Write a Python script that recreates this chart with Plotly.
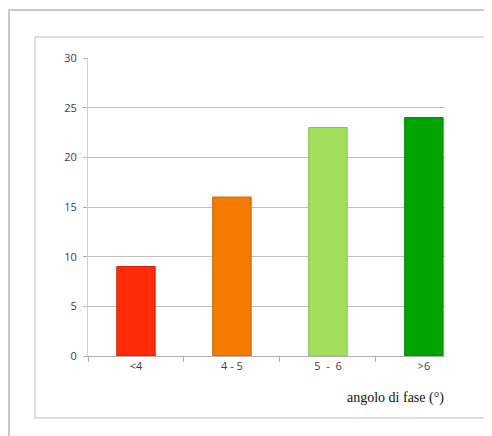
import plotly.graph_objects as go

categories = ["<4", "4\u00a0-\u00a05", "5\u00a0\u00a0-\u00a0\u00a06", ">6"]
values = [9, 16, 23, 24]
colors = ["#FF2A06", "#F47A00", "#A2E05C", "#00A400"]
borders = ["#D81E00", "#C86200", "#86C048", "#008800"]
y_ticks = [0, 5, 10, 15, 20, 25, 30]
x_title = "angolo di fase (°)"

OFF = 8  # page body margin offset
W, H = 492, 436
fx = lambda px: (px - OFF) / W
fy = lambda py: 1 - (py - OFF) / H


def open_frame(left, top, bottom, right=1200):
    x0, x1 = fx(left), fx(right)
    yt, yb = fy(top), fy(bottom)
    return f"M {x1} {yt} L {x0} {yt} L {x0} {yb} L {x1} {yb}"


fig = go.Figure()
fig.add_trace(go.Bar(
    x=categories, y=values, width=0.4,
    marker=dict(color=colors, line=dict(color=borders, width=1)),
    hoverinfo="x+y",
))

fig.update_layout(
    width=W, height=H,
    autosize=False,
    margin=dict(l=0, r=0, t=0, b=0, pad=0),
    paper_bgcolor="white", plot_bgcolor="white",
    showlegend=False,
    font=dict(family="Open Sans, Lato, sans-serif", size=11, color="#404040"),
    xaxis=dict(
        domain=[fx(88), fx(445)],
        type="category",
        range=[-0.5, 3.22],
        tickson="boundaries",
        ticks="outside", ticklen=5, tickcolor="#b0b0b0",
        showline=True, linecolor="#b0b0b0", linewidth=1,
        showgrid=False,
        automargin=False,
        tickfont=dict(size=11, color="#404040"),
    ),
    yaxis=dict(
        domain=[fy(356), fy(58)],
        range=[0, 30],
        tickvals=y_ticks,
        ticks="outside", ticklen=4, tickcolor="#b0b0b0",
        showline=True, linecolor="#d0d0d0", linewidth=1,
        showgrid=True, gridcolor="#c0c0c0", gridwidth=1,
        zeroline=False,
        automargin=False,
        tickfont=dict(size=11, color="#404040"),
        ticklabelstandoff=4,
    ),
    shapes=[
        dict(type="path", xref="paper", yref="paper",
             path=open_frame(9, 10, 1200),
             line=dict(color="#c8c8c8", width=2), layer="below"),
        dict(type="path", xref="paper", yref="paper",
             path=open_frame(35, 37, 418),
             line=dict(color="#d4d4d4", width=1.5), layer="below"),
    ],
    annotations=[
        dict(text=x_title, xref="paper", yref="paper",
             x=fx(446), y=fy(398), xanchor="right", yanchor="middle",
             showarrow=False,
             font=dict(family="Liberation Serif, Times New Roman, serif", size=14, color="#111111")),
    ],
)

fig.write_html("out.html")
